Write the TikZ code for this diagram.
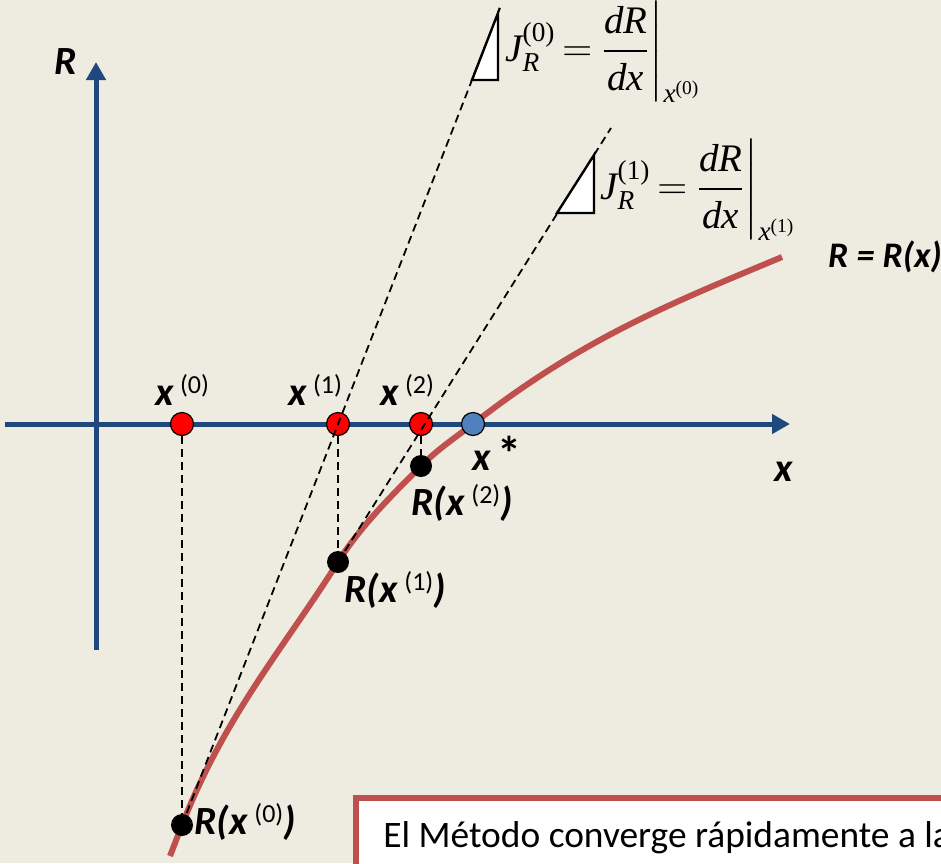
\documentclass[tikz,border=0pt]{standalone}
\usepackage{amsmath}
\usepackage{fontspec}
\setmainfont{Carlito}
\newfontfamily\tms{Liberation Serif}
\usetikzlibrary{arrows.meta}

\definecolor{paper}{RGB}{238,236,225}
\definecolor{axisblue}{RGB}{31,73,125}
\definecolor{curvered}{RGB}{192,80,77}
\definecolor{rootblue}{RGB}{79,129,189}

% bold italic x with an upright iteration index
\newcommand\itx[1]{\textbf{\textit{x}}\,\raisebox{6pt}{\normalfont\fontsize{13}{13}\selectfont(#1)}}
% Times-like letters inside the formulas
\newcommand\tm[1]{\text{\tms\itshape #1}}
\newcommand\tu[1]{\text{\tms #1}}

\begin{document}
\begin{tikzpicture}[
  x=0.5pt, y=-0.5pt,
  font=\fontsize{20}{24}\selectfont\bfseries\itshape,
  axis/.style={axisblue, line width=2.5pt, -{Triangle[length=9pt,width=9.5pt]}},
  curve/.style={curvered, line width=3pt},
  guide/.style={black, line width=.9pt, dash pattern=on 4pt off 2.5pt},
  wedge/.style={draw=black, fill=white, line width=1.2pt, line join=miter},
  iterpt/.style={circle, draw=black, fill=red, line width=.6pt, minimum size=11.5pt, inner sep=0pt},
  rootpt/.style={circle, draw=black, fill=rootblue, line width=.6pt, minimum size=11.5pt, inner sep=0pt},
  valpt/.style={circle, fill=black, minimum size=11pt, inner sep=0pt},
  lbl/.style={inner sep=0pt},
  eqn/.style={inner sep=0pt, anchor=west, font=\fontsize{19.5}{23}\selectfont},
  note/.style={draw=curvered, fill=white, line width=3pt}
]

\clip (0,0) rectangle (941,863);
\fill[paper] (0,0) rectangle (941,863);

% axes
\coordinate (xa) at (5,424);
\coordinate (xb) at (790,424);
\coordinate (ra) at (96,650);
\coordinate (rb) at (96,62);
\draw[axis] (xa) -- (xb);
\draw[axis] (ra) -- (rb);
\node[lbl] (lR) at (66,62) {R};
\node[lbl] (lx) at (784,472) {x};

% the function
\draw[curve] (170,856) -- (182,825)
  .. controls (225,715) and (284.5,647) .. (338,562)
  .. controls (360,527) and (391,496) .. (421,466)
  .. controls (438,449) and (456,437) .. (473,424)
  .. controls (583,338) and (672,303) .. (782,257);
\node[lbl, font=\fontsize{18}{22}\selectfont\bfseries\itshape] (lfun) at (885,257) {R = R(x)};

% iterates on the axis and values on the curve
\node[iterpt] (x0) at (182,424) {};
\node[iterpt] (x1) at (338,424) {};
\node[iterpt] (x2) at (421,424) {};
\node[valpt] (r0) at (182,825) {};
\node[valpt] (r1) at (338,562) {};
\node[valpt] (r2) at (421,466) {};

\coordinate (t0) at (500,8);
\coordinate (t1) at (611,128);
\draw[guide] (x0) -- (r0);
\draw[guide] (x1) -- (r1);
\draw[guide] (x2) -- (r2);
\draw[guide] (r0.center) -- (t0);
\draw[guide] (r1.center) -- (t1);
\node[rootpt] (xr) at (473,424) {};

% slope triangles
\draw[wedge] (472,80) -- (498,80) -- (498,13) -- cycle;
\draw[wedge] (557,213) -- (594,213) -- (594,155) -- cycle;
\node[eqn] (j0) at (505,52)
  {$\tm{J}^{\tu{(0)}}_{\tm{R}} \mkern-2mu=\mkern-2mu \left.\dfrac{\tm{dR}}{\tm{dx}}\right|_{\tm{x}^{\tu{(0)}}}$};
\node[eqn] (j1) at (600,190)
  {$\tm{J}^{\tu{(1)}}_{\tm{R}} \mkern-2mu=\mkern-2mu \left.\dfrac{\tm{dR}}{\tm{dx}}\right|_{\tm{x}^{\tu{(1)}}}$};

% labels
\node[lbl] (l0) at (182,390) {\itx{0}};
\node[lbl] (l1) at (315,390) {\itx{1}};
\node[lbl] (l2) at (407,390) {\itx{2}};
\node[lbl, anchor=west] (ls) at (472,453) {x\,{\upshape\fontsize{24}{24}\selectfont *}};
\node[lbl, anchor=west] (m2) at (411,503) {R(\itx{2})};
\node[lbl, anchor=west] (m1) at (344,590) {R(\itx{1})};
\node[lbl, anchor=west] (m0) at (194,822) {R(\itx{0})};

% comment box, cut by the frame
\draw[note] (356,798) rectangle (990,900);
\node[anchor=base west, inner sep=0pt, font=\fontsize{18.7}{22}\selectfont] (msg) at (383,847)
  {El Método converge rápidamente a la};

\end{tikzpicture}
\end{document}
